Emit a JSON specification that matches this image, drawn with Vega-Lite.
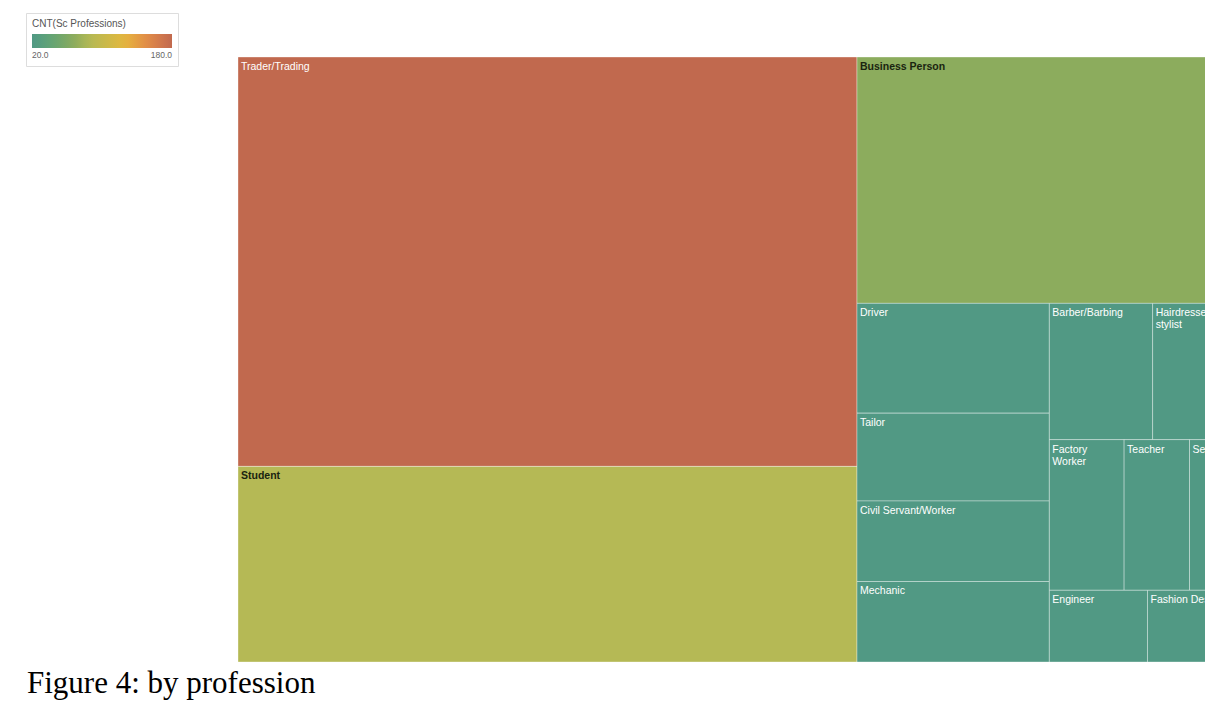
{
  "$schema": "https://vega.github.io/schema/vega-lite/v6.json",
  "width": 967,
  "height": 605,
  "autosize": {"type": "none"},
  "padding": {"left": 238, "top": 57, "right": 0, "bottom": 43},
  "background": "white",
  "config": {"view": {"stroke": null}},
  "title": {
    "text": "Figure 4: by profession",
    "orient": "bottom",
    "anchor": "start",
    "frame": "group",
    "font": "Liberation Serif",
    "fontSize": 31,
    "fontWeight": "normal",
    "color": "#000000",
    "baseline": "alphabetic",
    "offset": 31,
    "dx": -211
  },
  "data": {
    "values": [
      {"name": "Trader/Trading", "count": 180, "block": "A", "part": "Trader/Trading", "column": "Trader/Trading", "row": "Trader/Trading"},
      {"name": "Student", "count": 86, "block": "A", "part": "Student", "column": "Student", "row": "Student"},
      {"name": "Business Person", "count": 68, "block": "B", "part": "Business Person", "column": "Business Person", "row": "Business Person"},
      {"name": "Driver", "count": 15, "block": "B", "part": "Others", "column": "C1", "row": "Driver"},
      {"name": "Tailor", "count": 12, "block": "B", "part": "Others", "column": "C1", "row": "Tailor"},
      {"name": "Civil Servant/Worker", "count": 11, "block": "B", "part": "Others", "column": "C1", "row": "Civil Servant/Worker"},
      {"name": "Mechanic", "count": 11, "block": "B", "part": "Others", "column": "C1", "row": "Mechanic"},
      {"name": "Barber/Barbing", "count": 10, "block": "B", "part": "Others", "column": "C2", "row": "R1"},
      {"name": "Hairdresser/stylist", "count": 9, "block": "B", "part": "Others", "column": "C2", "row": "R1"},
      {"name": "Factory Worker", "count": 8, "block": "B", "part": "Others", "column": "C2", "row": "R2"},
      {"name": "Teacher", "count": 7, "block": "B", "part": "Others", "column": "C2", "row": "R2"},
      {"name": "Secretary", "count": 6, "block": "B", "part": "Others", "column": "C2", "row": "R2"},
      {"name": "Engineer", "count": 5, "block": "B", "part": "Others", "column": "C2", "row": "R3"},
      {"name": "Fashion Designer", "count": 5, "block": "B", "part": "Others", "column": "C2", "row": "R3"}
    ]
  },
  "transform": [
    {"window": [{"op": "sum", "field": "count", "as": "cumIncl"}], "sort": [{"field": "count", "order": "descending"}, {"field": "name", "order": "ascending"}], "frame": [null, 0]},
    {"calculate": "datum.cumIncl - datum.count", "as": "c0"},
    {"joinaggregate": [{"op": "sum", "field": "count", "as": "T"}]},
    {"joinaggregate": [{"op": "sum", "field": "count", "as": "S1"}, {"op": "min", "field": "c0", "as": "P1"}], "groupby": ["block"]},
    {"joinaggregate": [{"op": "sum", "field": "count", "as": "S2"}, {"op": "min", "field": "c0", "as": "P2"}], "groupby": ["block", "part"]},
    {"joinaggregate": [{"op": "sum", "field": "count", "as": "S3"}, {"op": "min", "field": "c0", "as": "P3"}], "groupby": ["block", "part", "column"]},
    {"joinaggregate": [{"op": "sum", "field": "count", "as": "S4"}, {"op": "min", "field": "c0", "as": "P4"}], "groupby": ["block", "part", "column", "row"]},
    {"calculate": "datum.P1 / datum.T", "as": "ax0"},
    {"calculate": "datum.S1 / datum.T", "as": "aw"},
    {"calculate": "(datum.P2 - datum.P1) / datum.S1", "as": "by0"},
    {"calculate": "datum.S2 / datum.S1", "as": "bh"},
    {"calculate": "datum.ax0 + datum.aw * (datum.P3 - datum.P2) / datum.S2", "as": "cx0"},
    {"calculate": "datum.aw * datum.S3 / datum.S2", "as": "cw"},
    {"calculate": "datum.by0 + datum.bh * (datum.P4 - datum.P3) / datum.S3", "as": "y0"},
    {"calculate": "datum.y0 + datum.bh * datum.S4 / datum.S3", "as": "y1"},
    {"calculate": "datum.cx0 + datum.cw * (datum.c0 - datum.P4) / datum.S4", "as": "x0"},
    {"calculate": "datum.x0 + datum.cw * datum.count / datum.S4", "as": "x1"},
    {"calculate": "(length(datum.name) * 5.5 > (datum.x1 - datum.x0) * 1008 && test(regexp('[ /]'), datum.name)) ? replace(datum.name, regexp('([ /])'), '$1\\n') : datum.name", "as": "label"}
  ],
  "encoding": {
    "x": {"field": "x0", "type": "quantitative", "scale": {"domain": [0, 0.9597], "nice": false, "zero": false}, "axis": null},
    "y": {"field": "y0", "type": "quantitative", "scale": {"domain": [0, 1], "nice": false, "reverse": true}, "axis": null}
  },
  "layer": [
    {
      "mark": {"type": "rect", "stroke": "#ffffff", "strokeWidth": 1, "strokeOpacity": 0.35, "clip": true},
      "encoding": {
        "x2": {"field": "x1"},
        "y2": {"field": "y1"},
        "color": {
          "field": "count",
          "type": "quantitative",
          "title": "CNT(Sc Professions)",
          "scale": {
            "domain": [20, 67, 86, 125, 152, 180],
            "range": ["#519984", "#8aab5e", "#b5b955", "#e4b73f", "#e08b48", "#c1694e"],
            "clamp": true
          },
          "legend": {
            "orient": "none",
            "legendX": -212,
            "legendY": -44,
            "direction": "horizontal",
            "gradientLength": 140,
            "gradientThickness": 14,
            "gradientStrokeWidth": 0,
            "values": [20, 180],
            "format": ".1f",
            "titleFont": "Liberation Sans",
            "titleFontSize": 10,
            "titleFontWeight": "normal",
            "titleColor": "#555555",
            "titlePadding": 5,
            "labelFont": "Liberation Sans",
            "labelFontSize": 8.5,
            "labelColor": "#666666",
            "labelOffset": 3,
            "padding": 6,
            "strokeColor": "#dddddd",
            "fillColor": "#ffffff"
          }
        }
      }
    },
    {
      "transform": [{"filter": "datum.count < 50 || datum.count > 120"}],
      "mark": {"type": "text", "align": "left", "baseline": "top", "dx": 3, "dy": 5, "font": "Liberation Sans", "fontSize": 10.5, "lineBreak": "\n", "lineHeight": 12, "color": "#ffffff", "clip": true},
      "encoding": {
        "text": {"field": "label"}
      }
    },
    {
      "transform": [{"filter": "datum.count >= 50 && datum.count <= 120"}],
      "mark": {"type": "text", "align": "left", "baseline": "top", "dx": 3, "dy": 5, "font": "Liberation Sans", "fontSize": 10.5, "fontWeight": "bold", "lineBreak": "\n", "lineHeight": 12, "color": "#1a2410", "clip": true},
      "encoding": {
        "text": {"field": "label"}
      }
    }
  ]
}
